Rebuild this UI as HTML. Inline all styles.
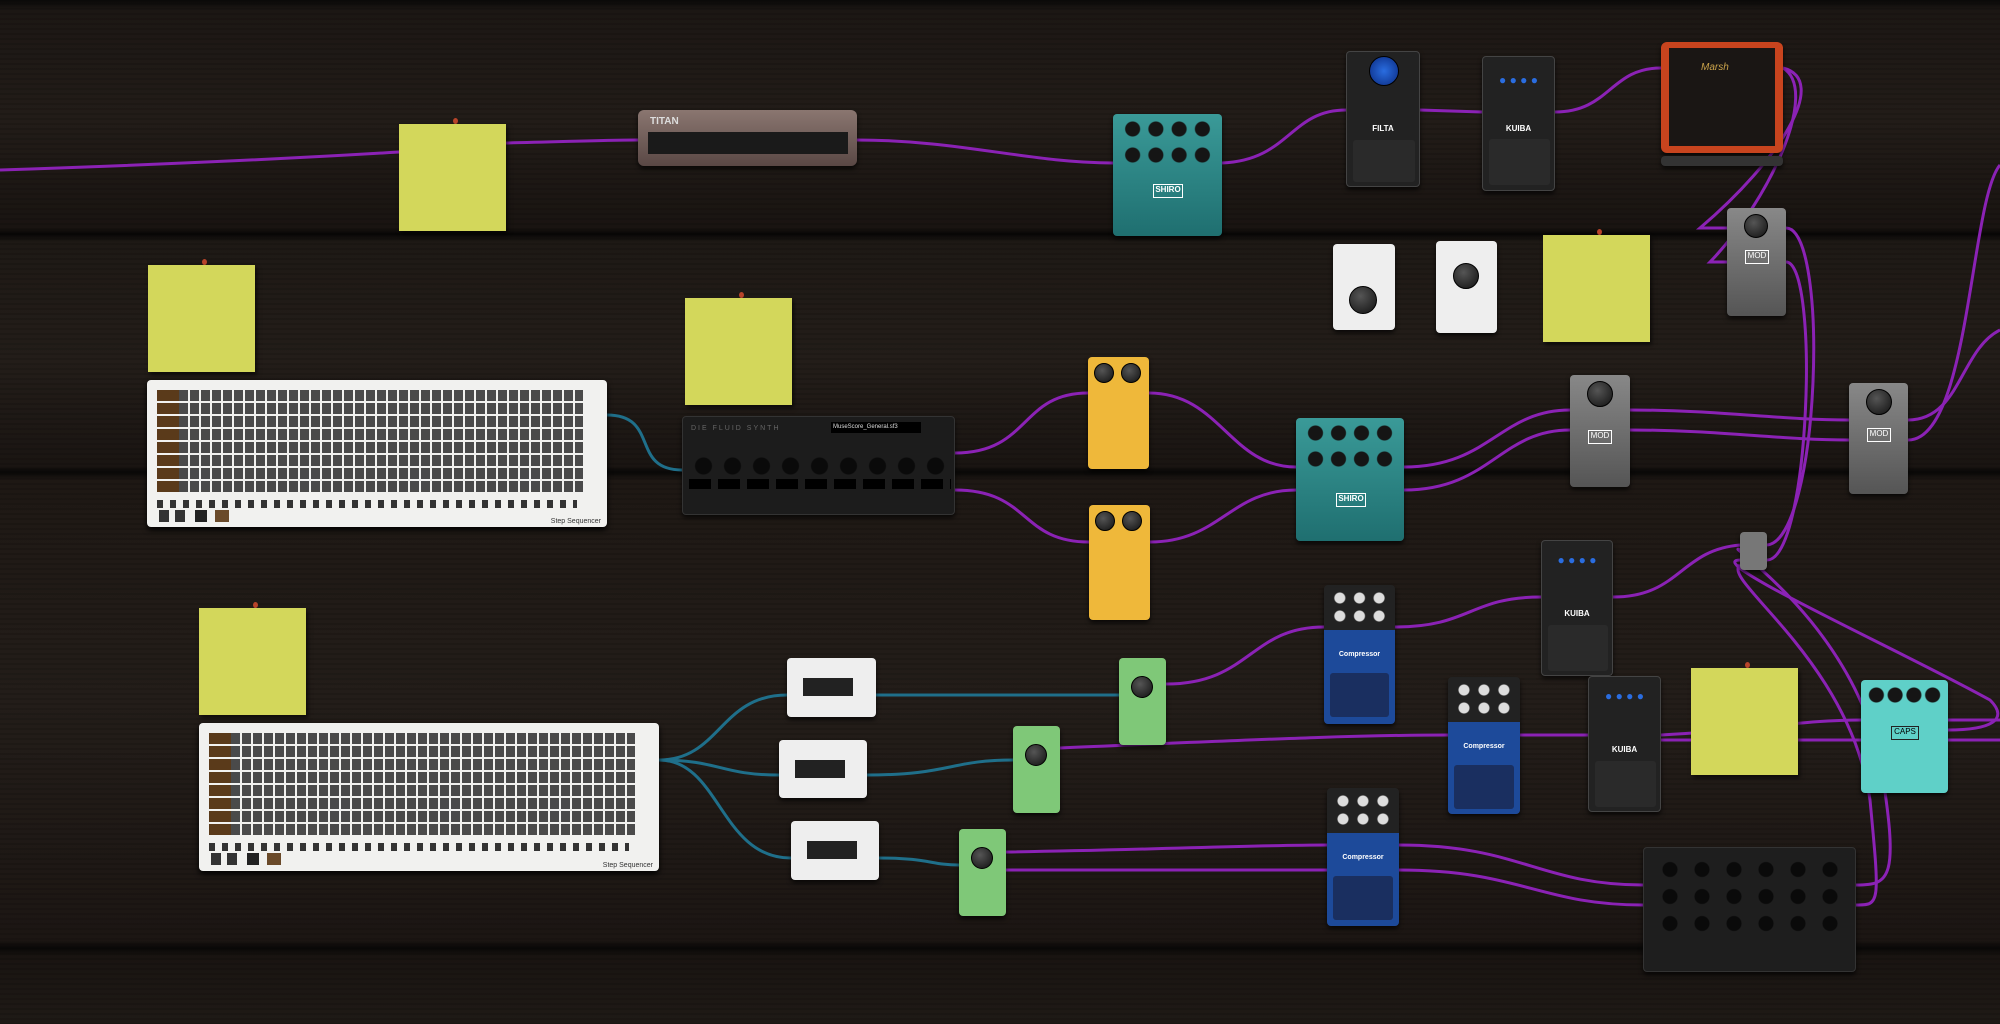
<!DOCTYPE html>
<html><head><meta charset="utf-8"><style>
*{margin:0;padding:0;box-sizing:border-box}
body{width:2000px;height:1024px;overflow:hidden;font-family:"Liberation Sans",sans-serif;
background:
repeating-linear-gradient(180deg,rgba(0,0,0,0) 0 3px,rgba(0,0,0,.12) 3px 5px),
linear-gradient(180deg,#0a0908 0,#1c1714 10px,#221c18 120px,#191411 228px,#080706 234px,#1e1915 242px,#231d19 360px,#1a1512 466px,#090807 472px,#1e1814 480px,#231d19 700px,#1c1613 940px,#090807 948px,#191411 956px,#1f1a16 1024px);}
.a{position:absolute}
.note{position:absolute;width:107px;height:107px;background:#d3d75b;box-shadow:2px 3px 4px rgba(0,0,0,.6)}
.note:before{content:"";position:absolute;left:50%;top:-6px;width:5px;height:6px;background:#b8442a;border-radius:50%}
.seq{position:absolute;background:#f1f1ef;border-radius:4px;box-shadow:0 3px 6px #000}
.grid{position:absolute;left:10px;top:10px;right:24px;height:104px;
background:repeating-linear-gradient(90deg,#4a4a4a 0 9px,#f1f1ef 9px 11px),#4a4a4a}
.grid:after{content:"";position:absolute;inset:0;background:repeating-linear-gradient(180deg,transparent 0 11px,#f1f1ef 11px 13px)}
.lbl{position:absolute;left:10px;top:10px;width:22px;height:104px;background:repeating-linear-gradient(180deg,#5a3a1a 0 11px,#f1f1ef 11px 13px);z-index:2}
.ped{position:absolute;border-radius:4px;box-shadow:0 3px 5px rgba(0,0,0,.7)}
.k{position:absolute;border-radius:50%;background:radial-gradient(circle at 40% 35%,#555,#111);border:1px solid #000}
.t{position:absolute;font-size:8px;color:#fff;text-align:center;width:100%;font-weight:bold}
.kr{position:absolute;left:8px;right:8px;height:18px;background-image:radial-gradient(circle,#151515 7px,transparent 8px);background-size:25% 18px}
.kr3{position:absolute;left:6px;right:6px;height:14px;background-image:radial-gradient(circle,#ddd 5px,transparent 6px);background-size:33.3% 14px}
</style></head><body>
<svg class="a" style="left:0;top:0" width="2000" height="1024">
<g fill="none" stroke="#8b22b5" stroke-width="3">
<path d="M0 170 C150 165 300 158 399 152"/>
<path d="M506 143 C560 142 600 140 638 140"/>
<path d="M857 140 C960 140 1030 163 1113 163"/>
<path d="M1222 163 C1290 160 1290 110 1346 110"/>
<path d="M1420 110 L1482 112"/>
<path d="M1555 112 C1610 112 1610 68 1661 68"/>
<path d="M1783 68 C1830 80 1780 160 1700 228 L1727 228"/>
<path d="M1783 68 C1820 90 1770 200 1710 262 L1727 262"/>
<path d="M955 453 C1030 453 1020 393 1088 393"/>
<path d="M955 490 C1030 490 1020 542 1089 542"/>
<path d="M1149 393 C1220 393 1230 467 1296 467"/>
<path d="M1150 542 C1220 542 1230 490 1296 490"/>
<path d="M1404 467 C1490 467 1500 410 1570 410"/>
<path d="M1404 490 C1490 490 1500 430 1570 430"/>
<path d="M1630 410 C1720 410 1780 420 1849 420"/>
<path d="M1630 430 C1720 430 1780 440 1849 440"/>
<path d="M1908 420 C1960 420 1960 350 2000 330"/>
<path d="M1908 440 C1970 440 1970 200 2000 165"/>
<path d="M1786 228 C1830 228 1820 540 1767 545"/>
<path d="M1786 262 C1820 262 1810 560 1767 560"/>
<path d="M1166 684 C1250 684 1250 627 1324 627"/>
<path d="M1395 627 C1470 627 1470 597 1541 597"/>
<path d="M1613 597 C1680 597 1680 550 1740 545"/>
<path d="M1060 748 C1250 740 1350 735 1448 735"/>
<path d="M1520 735 L1588 735"/>
<path d="M1661 735 C1760 730 1800 720 1861 720"/>
<path d="M1661 740 C1760 740 1800 740 1861 740"/>
<path d="M1006 852 C1150 850 1250 845 1327 845"/>
<path d="M1006 870 C1150 870 1250 870 1327 870"/>
<path d="M1399 845 C1520 845 1540 885 1643 885"/>
<path d="M1399 870 C1520 870 1540 905 1643 905"/>
<path d="M1948 720 L2000 720"/><path d="M1948 740 L2000 740"/>
<path d="M1740 560 C1700 560 1900 650 1990 700 C2010 720 1990 730 1948 730"/>
<path d="M1740 550 C1720 540 1850 620 1880 760 C1900 880 1890 885 1856 885"/>
<path d="M1740 565 C1720 580 1850 660 1870 800 C1880 905 1880 905 1856 905"/>
</g>
<g fill="none" stroke="#1f6f8a" stroke-width="3">
<path d="M607 415 C660 415 630 470 682 470"/>
<path d="M659 760 C720 760 720 695 787 695"/>
<path d="M659 760 C720 760 720 775 779 775"/>
<path d="M659 760 C720 760 720 858 791 858"/>
<path d="M876 695 L1119 695"/>
<path d="M867 775 C950 775 950 760 1013 760"/>
<path d="M879 858 C930 858 930 865 959 865"/>
</g>
</svg>

<div class="note" style="left:399px;top:124px"></div>
<div class="note" style="left:148px;top:265px"></div>
<div class="note" style="left:685px;top:298px"></div>
<div class="note" style="left:1543px;top:235px"></div>
<div class="note" style="left:199px;top:608px"></div>
<div class="note" style="left:1691px;top:668px"></div>

<div class="seq" style="left:147px;top:380px;width:460px;height:147px"><div class="grid"></div><div class="lbl"></div>
<div class="a" style="left:10px;top:120px;width:420px;height:8px;background:repeating-linear-gradient(90deg,#333 0 6px,transparent 6px 13px)"></div>
<div class="a" style="left:12px;top:130px;width:80px;height:12px;background:linear-gradient(90deg,#333 0 10px,transparent 10px 16px,#333 16px 26px,transparent 26px 36px,#222 36px 48px,transparent 48px 56px,#6a4a2a 56px 70px,transparent 70px)"></div>
<div class="a" style="right:6px;bottom:2px;font-size:7px;color:#333">Step Sequencer</div></div>
<div class="seq" style="left:199px;top:723px;width:460px;height:148px"><div class="grid"></div><div class="lbl"></div>
<div class="a" style="left:10px;top:120px;width:420px;height:8px;background:repeating-linear-gradient(90deg,#333 0 6px,transparent 6px 13px)"></div>
<div class="a" style="left:12px;top:130px;width:80px;height:12px;background:linear-gradient(90deg,#333 0 10px,transparent 10px 16px,#333 16px 26px,transparent 26px 36px,#222 36px 48px,transparent 48px 56px,#6a4a2a 56px 70px,transparent 70px)"></div>
<div class="a" style="right:6px;bottom:2px;font-size:7px;color:#333">Step Sequencer</div></div>

<div class="ped" style="left:682px;top:416px;width:273px;height:99px;background:#1c1c1c;border:1px solid #333">
<div class="a" style="left:8px;top:8px;font-size:7px;color:#666;letter-spacing:2px">DIE FLUID SYNTH</div>
<div class="a" style="left:148px;top:5px;width:90px;height:11px;background:#000;color:#ddd;font-size:6px;padding:2px">MuseScore_General.sf3</div>
<div class="a" style="left:6px;top:40px;width:262px;height:18px;background-image:radial-gradient(circle,#0a0a0a 8px,transparent 9px);background-size:29px 18px"></div>
<div class="a" style="left:6px;top:62px;width:262px;height:10px;background-image:linear-gradient(90deg,#000 0 22px,transparent 22px);background-size:29px 10px"></div>
</div>

<div class="ped" style="left:638px;top:110px;width:219px;height:56px;background:linear-gradient(#8a7670,#5a4845);border-radius:6px">
<div class="a" style="left:10px;top:22px;width:200px;height:22px;background:#1a1a1a"></div>
<div class="a" style="left:12px;top:6px;font-size:10px;color:#ddd;font-weight:bold">TITAN</div></div>

<div class="ped" style="left:1113px;top:114px;width:109px;height:122px;background:linear-gradient(#3a9a98,#1f6f70)"><div class="kr" style="top:6px"></div><div class="kr" style="top:32px"></div><div class="a" style="left:40px;top:70px;width:30px;height:14px;border:1px solid #fff;color:#fff;font-size:8px;text-align:center;font-weight:bold">SHIRO</div></div>
<div class="ped" style="left:1296px;top:418px;width:108px;height:123px;background:linear-gradient(#3a9a98,#1f6f70)"><div class="kr" style="top:6px"></div><div class="kr" style="top:32px"></div><div class="a" style="left:40px;top:75px;width:30px;height:14px;border:1px solid #fff;color:#fff;font-size:8px;text-align:center;font-weight:bold">SHIRO</div></div>

<div class="ped" style="left:1346px;top:51px;width:74px;height:136px;background:#222;border:1px solid #444"><div class="k" style="left:22px;top:4px;width:30px;height:30px;background:radial-gradient(circle,#2a6de0,#0a2a80)"></div><div class="t" style="top:72px">FILTA</div><div class="a" style="left:6px;top:88px;width:62px;height:42px;background:#2a2a2a;border-radius:3px"></div></div>
<div class="ped" style="left:1482px;top:56px;width:73px;height:135px;background:#222;border:1px solid #444"><div class="t" style="top:16px;color:#2a6de0;font-size:12px">● ● ● ●</div><div class="t" style="top:67px">KUIBA</div><div class="a" style="left:6px;top:82px;width:61px;height:46px;background:#2a2a2a;border-radius:3px"></div></div>
<div class="ped" style="left:1541px;top:540px;width:72px;height:136px;background:#222;border:1px solid #444"><div class="t" style="top:12px;color:#2a6de0;font-size:12px">● ● ● ●</div><div class="t" style="top:68px">KUIBA</div><div class="a" style="left:6px;top:84px;width:60px;height:46px;background:#2a2a2a;border-radius:3px"></div></div>
<div class="ped" style="left:1588px;top:676px;width:73px;height:136px;background:#222;border:1px solid #444"><div class="t" style="top:12px;color:#2a6de0;font-size:12px">● ● ● ●</div><div class="t" style="top:68px">KUIBA</div><div class="a" style="left:6px;top:84px;width:61px;height:46px;background:#2a2a2a;border-radius:3px"></div></div>

<div class="ped" style="left:1661px;top:42px;width:122px;height:111px;background:#c8441e;border-radius:6px"><div class="a" style="left:8px;top:6px;width:106px;height:98px;background:#1a1614"></div><div class="a" style="left:40px;top:20px;font-size:10px;color:#c9a24a;font-style:italic">Marsh</div></div>
<div class="ped" style="left:1661px;top:156px;width:122px;height:10px;background:#333"></div>

<div class="ped" style="left:1727px;top:208px;width:59px;height:108px;background:linear-gradient(#888,#555)"><div class="k" style="left:17px;top:6px;width:24px;height:24px"></div><div class="a" style="left:18px;top:42px;width:24px;height:14px;border:1px solid #fff;color:#fff;font-size:8px;text-align:center">MOD</div></div>
<div class="ped" style="left:1570px;top:375px;width:60px;height:112px;background:linear-gradient(#888,#555)"><div class="k" style="left:17px;top:6px;width:26px;height:26px"></div><div class="a" style="left:18px;top:55px;width:24px;height:14px;border:1px solid #fff;color:#fff;font-size:8px;text-align:center">MOD</div></div>
<div class="ped" style="left:1849px;top:383px;width:59px;height:111px;background:linear-gradient(#888,#555)"><div class="k" style="left:17px;top:6px;width:26px;height:26px"></div><div class="a" style="left:18px;top:45px;width:24px;height:14px;border:1px solid #fff;color:#fff;font-size:8px;text-align:center">MOD</div></div>

<div class="ped" style="left:1333px;top:244px;width:62px;height:86px;background:#eee"><div class="k" style="left:16px;top:42px;width:28px;height:28px"></div></div>
<div class="ped" style="left:1436px;top:241px;width:61px;height:92px;background:#eee"><div class="k" style="left:17px;top:22px;width:26px;height:26px"></div></div>

<div class="ped" style="left:1088px;top:357px;width:61px;height:112px;background:#efb83a"><div class="k" style="left:6px;top:6px;width:20px;height:20px"></div><div class="k" style="left:33px;top:6px;width:20px;height:20px"></div></div>
<div class="ped" style="left:1089px;top:505px;width:61px;height:115px;background:#efb83a"><div class="k" style="left:6px;top:6px;width:20px;height:20px"></div><div class="k" style="left:33px;top:6px;width:20px;height:20px"></div></div>

<div class="ped" style="left:1740px;top:532px;width:27px;height:38px;background:#777"></div>

<div class="ped" style="left:1324px;top:585px;width:71px;height:139px;background:linear-gradient(#222 0 45px,#1d4a9a 45px)"><div class="kr3" style="top:6px"></div><div class="kr3" style="top:24px"></div><div class="t" style="top:66px;font-size:7px">Compressor</div><div class="a" style="left:6px;top:88px;width:59px;height:44px;background:#1a2f60;border-radius:3px"></div></div>
<div class="ped" style="left:1448px;top:677px;width:72px;height:137px;background:linear-gradient(#222 0 45px,#1d4a9a 45px)"><div class="kr3" style="top:6px"></div><div class="kr3" style="top:24px"></div><div class="t" style="top:66px;font-size:7px">Compressor</div><div class="a" style="left:6px;top:88px;width:60px;height:44px;background:#1a2f60;border-radius:3px"></div></div>
<div class="ped" style="left:1327px;top:788px;width:72px;height:138px;background:linear-gradient(#222 0 45px,#1d4a9a 45px)"><div class="kr3" style="top:6px"></div><div class="kr3" style="top:24px"></div><div class="t" style="top:66px;font-size:7px">Compressor</div><div class="a" style="left:6px;top:88px;width:60px;height:44px;background:#1a2f60;border-radius:3px"></div></div>

<div class="ped" style="left:1861px;top:680px;width:87px;height:113px;background:#5fd0c8"><div class="kr" style="top:6px;left:6px;right:6px;background-size:25% 18px"></div><div class="a" style="left:30px;top:46px;width:28px;height:14px;border:1px solid #222;font-size:8px;text-align:center">CAPS</div></div>

<div class="ped" style="left:1643px;top:847px;width:213px;height:125px;background:#1e1e1e;border:1px solid #333"><div class="a" style="left:10px;top:8px;width:190px;height:80px;background-image:radial-gradient(circle,#0a0a0a 7px,transparent 8px);background-size:32px 27px"></div></div>

<div class="ped" style="left:787px;top:658px;width:89px;height:59px;background:#eee"><div class="a" style="left:16px;top:20px;width:50px;height:18px;background:#222"></div></div>
<div class="ped" style="left:779px;top:740px;width:88px;height:58px;background:#eee"><div class="a" style="left:16px;top:20px;width:50px;height:18px;background:#222"></div></div>
<div class="ped" style="left:791px;top:821px;width:88px;height:59px;background:#eee"><div class="a" style="left:16px;top:20px;width:50px;height:18px;background:#222"></div></div>

<div class="ped" style="left:1119px;top:658px;width:47px;height:87px;background:#7fc878"><div class="k" style="left:12px;top:18px;width:22px;height:22px"></div></div>
<div class="ped" style="left:1013px;top:726px;width:47px;height:87px;background:#7fc878"><div class="k" style="left:12px;top:18px;width:22px;height:22px"></div></div>
<div class="ped" style="left:959px;top:829px;width:47px;height:87px;background:#7fc878"><div class="k" style="left:12px;top:18px;width:22px;height:22px"></div></div>
</body></html>
